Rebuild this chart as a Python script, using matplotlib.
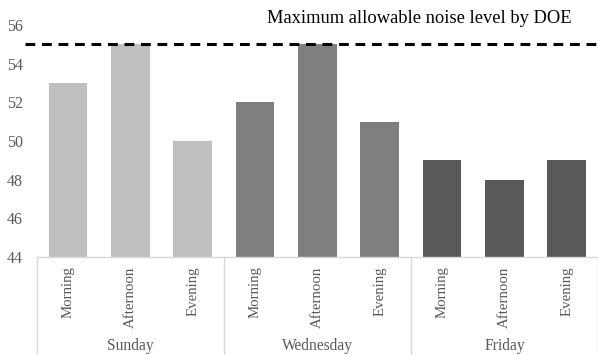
import matplotlib.pyplot as plt
import matplotlib.transforms as mtransforms

plt.rcParams['font.family'] = ['Liberation Serif', 'DejaVu Serif']

days = ['Sunday', 'Wednesday', 'Friday']
periods = ['Morning', 'Afternoon', 'Evening']
noise = [
    [53, 55, 50],   # Sunday
    [52, 55, 51],   # Wednesday
    [49, 48, 49],   # Friday
]
day_colors = ['#BFBFBF', '#7F7F7F', '#595959']
doe_limit = 55
limit_label = 'Maximum allowable noise level by DOE'

text_color = '#595959'
line_color = '#D9D9D9'

fig = plt.figure(figsize=(5.98, 3.55), dpi=100)
ax = fig.add_axes([0.0615, 0.276, 0.9385, 0.654])

# bars, three per day
x = 0
for d, day in enumerate(days):
    for p, period in enumerate(periods):
        ax.bar(x, noise[d][p] - 44, bottom=44, width=0.62,
               color=day_colors[d], zorder=2)
        x += 1

ax.set_xlim(-0.5, len(days) * len(periods) - 0.5)
ax.set_ylim(44, 56)
ax.set_yticks(range(44, 57, 2))
ax.set_xticks([])
ax.tick_params(axis='y', length=0, colors=text_color, labelsize=11.5, pad=10)

for side in ['top', 'right', 'left']:
    ax.spines[side].set_visible(False)
ax.spines['bottom'].set_color(line_color)
ax.spines['bottom'].set_linewidth(1)

# DOE limit line
ax.plot([-0.69, 8.5], [doe_limit, doe_limit], color='black', linestyle=(0, (3.2, 2.2)),
        linewidth=2.2, clip_on=False, zorder=3)
ax.text(5.64, 56.33, limit_label, ha='center', va='center', fontsize=13.3, color='black')

# two-level category axis below the plot
trans = mtransforms.blended_transform_factory(ax.transData, ax.transAxes)
for i in range(len(days) + 1):
    xs = i * len(periods) - 0.5
    ax.plot([xs, xs], [0, -0.43], color=line_color, linewidth=1,
            transform=trans, clip_on=False)

x = 0
for d, day in enumerate(days):
    for period in periods:
        ax.text(x, -0.04, period, rotation=90, ha='center', va='top',
                fontsize=10.7, color=text_color, transform=trans)
        x += 1
    ax.text(d * len(periods) + 1, -0.385, day, ha='center', va='center',
            fontsize=11.2, color=text_color, transform=trans)

fig.savefig('out.png', dpi=100)
